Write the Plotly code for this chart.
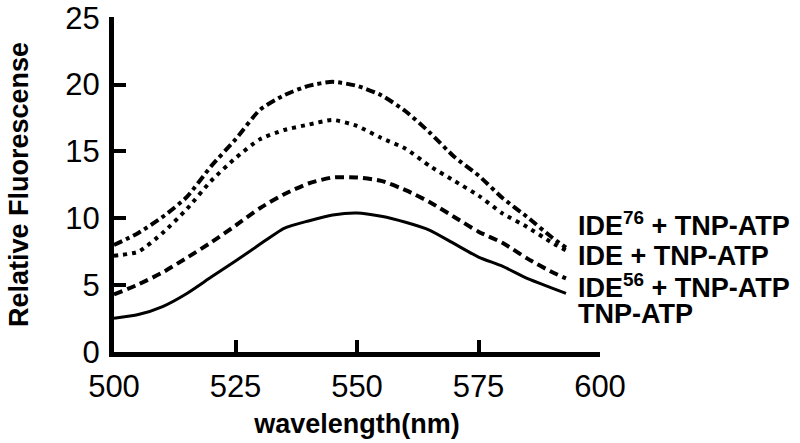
import plotly.graph_objects as go

wavelength = [500, 505, 510, 515, 520, 525, 530, 535, 540, 545, 550, 555, 560, 565, 570, 575, 580, 585, 590, 593]

tnp_atp = [2.52, 2.8, 3.4, 4.38, 5.6, 6.8, 8.05, 9.25, 9.8, 10.25, 10.4, 10.15, 9.7, 9.1, 8.1, 7.1, 6.4, 5.5, 4.8, 4.38]
ide56_tnp = [4.3, 5.05, 5.95, 7.05, 8.2, 9.45, 10.75, 11.8, 12.6, 13.05, 13.05, 12.8, 12.1, 11.2, 10.1, 9.0, 8.15, 7.0, 6.0, 5.5]
ide_tnp = [7.2, 7.5, 8.9, 10.7, 12.8, 14.5, 15.9, 16.6, 17.0, 17.35, 16.9, 16.0, 15.2, 13.9, 12.8, 11.7, 10.35, 9.35, 8.2, 7.6]
ide76_tnp = [8.0, 8.9, 10.1, 11.6, 13.9, 15.9, 18.1, 19.2, 19.9, 20.2, 19.9, 19.2, 18.0, 16.4, 14.6, 13.2, 11.5, 10.1, 8.6, 7.8]

x_ticks = [500, 525, 550, 575, 600]
y_ticks = [0, 5, 10, 15, 20, 25]

series_names = ["IDE<sup>76</sup> + TNP-ATP", "IDE + TNP-ATP", "IDE<sup>56</sup> + TNP-ATP", "TNP-ATP"]
label_y = [9.6, 7.15, 4.9, 2.85]

FONT = "Liberation Sans, Arial, Helvetica, sans-serif"

fig = go.Figure()
traces = [
    (ide76_tnp, dict(color="black", width=4, dash="9px,4px,4px,4px")),
    (ide_tnp, dict(color="black", width=4, dash="4px,5px")),
    (ide56_tnp, dict(color="black", width=4, dash="9px,5px")),
    (tnp_atp, dict(color="black", width=3)),
]
for (vals, line), name in zip(traces, series_names):
    fig.add_trace(go.Scatter(x=wavelength, y=vals, mode="lines", line=line, name=name,
                             showlegend=False, line_shape="spline", line_smoothing=0.6))

for name, yv in zip(series_names, label_y):
    fig.add_annotation(text="<b>" + name + "</b>", xref="paper", x=0.95, xanchor="left",
                       yref="y", y=yv, yanchor="middle", showarrow=False,
                       font=dict(family=FONT, size=27, color="black"))

fig.update_layout(
    width=800, height=443,
    margin=dict(l=114, r=200, t=17, b=91, autoexpand=False),
    paper_bgcolor="white", plot_bgcolor="white",
    font=dict(family=FONT, color="black"),
)
fig.update_xaxes(range=[500, 600], tickvals=x_ticks, ticks="inside", ticklen=12, tickwidth=4,
                 tickcolor="black", showline=True, linewidth=5, linecolor="black",
                 showgrid=False, zeroline=False, tickfont=dict(size=31, family=FONT),
                 ticklabelstandoff=3, automargin=False,
                 title=dict(text="<b>wavelength(nm)</b>", font=dict(size=27, family=FONT), standoff=12))
fig.update_yaxes(range=[0, 25.05], tickvals=y_ticks, ticks="inside", ticklen=12, tickwidth=4,
                 tickcolor="black", showline=True, linewidth=5, linecolor="black",
                 showgrid=False, zeroline=False, tickfont=dict(size=31, family=FONT),
                 ticklabelstandoff=3, automargin=False,
                 title=dict(text="<b>Relative Fluorescense</b>", font=dict(size=27, family=FONT), standoff=30))

fig.write_html("out.html", config={"displayModeBar": False},
               post_script="document.body.style.margin='0';")
